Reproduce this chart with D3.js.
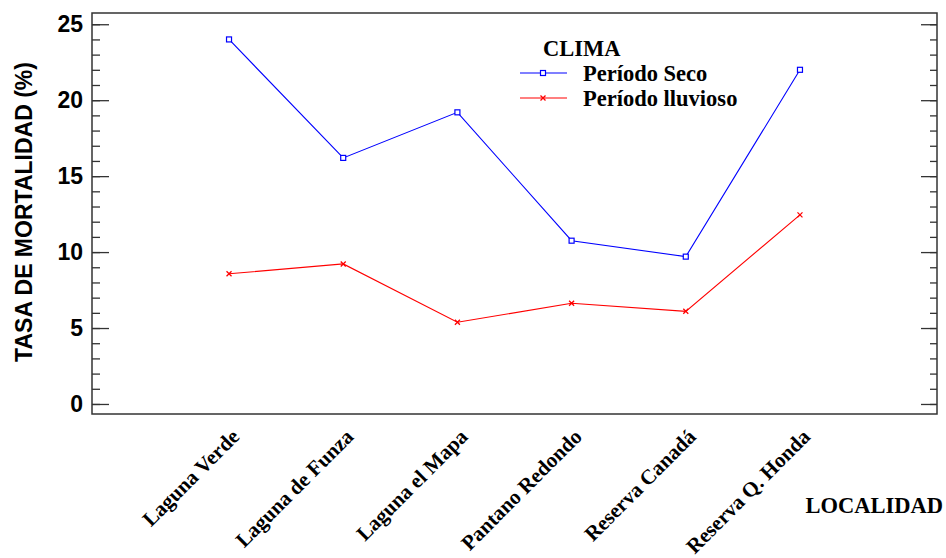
<!DOCTYPE html>
<html>
<head>
<meta charset="utf-8">
<script src="https://cdn.jsdelivr.net/npm/d3@7"></script>
<style>
  html, body { margin: 0; padding: 0; background: #fff; }
  svg { display: block; }
</style>
</head>
<body>
<svg id="chart" width="946" height="558"></svg>
<script>
// Localidades muestreadas
const localidades = ["Laguna Verde", "Laguna de Funza", "Laguna el Mapa", "Pantano Redondo", "Reserva Canadá", "Reserva Q. Honda"];
// Tasa de mortalidad (%) por época
const seco = [24.0, 16.2, 19.2, 10.75, 9.7, 22.0];
const lluvioso = [8.57, 9.22, 5.38, 6.63, 6.1, 12.45];
const yMajorTicks = [0, 5, 10, 15, 20, 25];
const yMinorTicks = d3.range(0, 26);

const svg = d3.select("#chart");
const plotLeft = 92, plotRight = 937, plotTop = 13, plotBottom = 414;

const x = d3.scalePoint().domain(localidades).range([plotLeft, plotRight]).padding(1.2);
const y = d3.scaleLinear().domain([-0.66, 25.74]).range([plotBottom, plotTop]);

const serif = "'Liberation Serif', 'Times New Roman', serif";
const sans = "'Liberation Sans', Arial, sans-serif";

// Left axis: ticks pointing inward
const yLeftMinor = d3.axisRight(y).tickValues(yMinorTicks).tickSize(8).tickFormat("");
const yLeftMajor = d3.axisRight(y).tickValues(yMajorTicks).tickSize(17).tickFormat("");
const yLabels = d3.axisLeft(y).tickValues(yMajorTicks).tickSize(0).tickPadding(9);

function styleAxis(g) {
  g.select(".domain").remove();
  g.selectAll(".tick line").attr("stroke", "#333").attr("stroke-width", 1.3);
}

svg.append("g").attr("transform", `translate(${plotLeft},0)`).call(yLeftMinor).call(styleAxis);
svg.append("g").attr("transform", `translate(${plotLeft},0)`).call(yLeftMajor).call(styleAxis);
svg.append("g").attr("transform", `translate(${plotLeft},0)`).call(yLabels)
  .call(g => g.select(".domain").remove())
  .call(g => g.selectAll("text")
    .attr("font-family", sans).attr("font-weight", "bold").attr("font-size", 23).attr("fill", "#000"));

// Right axis mirrored
const yRightMinor = d3.axisLeft(y).tickValues(yMinorTicks).tickSize(7).tickFormat("");
const yRightMajor = d3.axisLeft(y).tickValues(yMajorTicks).tickSize(16).tickFormat("");
svg.append("g").attr("transform", `translate(${plotRight},0)`).call(yRightMinor).call(styleAxis);
svg.append("g").attr("transform", `translate(${plotRight},0)`).call(yRightMajor).call(styleAxis);

// Frame
svg.append("rect")
  .attr("x", plotLeft).attr("y", plotTop)
  .attr("width", plotRight - plotLeft).attr("height", plotBottom - plotTop)
  .attr("fill", "none").attr("stroke", "#333").attr("stroke-width", 1.5);

// Category labels, rotated
const xAxis = d3.axisBottom(x).tickSize(0).tickPadding(0);
svg.append("g").attr("transform", `translate(0,${plotBottom})`).call(xAxis)
  .call(g => g.select(".domain").remove())
  .call(g => g.selectAll("text")
    .attr("font-family", serif).attr("font-weight", "bold").attr("font-size", 21).attr("fill", "#000")
    .attr("text-anchor", "end").attr("dy", null).attr("y", 0)
    .attr("transform", "translate(11,24) rotate(-45)"));

// Series
const line = d3.line().x((d, i) => x(localidades[i])).y(d => y(d));

svg.append("path").datum(seco)
  .attr("d", line).attr("fill", "none").attr("stroke", "#0000ff").attr("stroke-width", 1.1);
svg.append("path").datum(lluvioso)
  .attr("d", line).attr("fill", "none").attr("stroke", "#ff0000").attr("stroke-width", 1.1);

function squareMarker(sel, cx, cy) {
  sel.append("rect").attr("x", cx - 2.5).attr("y", cy - 2.5).attr("width", 5).attr("height", 5)
    .attr("fill", "#fff").attr("stroke", "#0000ff").attr("stroke-width", 1.2);
}
function crossMarker(sel, cx, cy) {
  sel.append("path").attr("d", `M${cx - 2.5},${cy - 2.5}L${cx + 2.5},${cy + 2.5}M${cx - 2.5},${cy + 2.5}L${cx + 2.5},${cy - 2.5}`)
    .attr("stroke", "#ff0000").attr("stroke-width", 1.3).attr("fill", "none");
}

const marks = svg.append("g");
seco.forEach((v, i) => squareMarker(marks, x(localidades[i]), y(v)));
lluvioso.forEach((v, i) => crossMarker(marks, x(localidades[i]), y(v)));

// Legend
const legend = svg.append("g");
legend.append("text").attr("x", 543).attr("y", 56).text("CLIMA")
  .attr("font-family", serif).attr("font-weight", "bold").attr("font-size", 22.5);
const items = [
  { name: "Período Seco", color: "#0000ff", marker: squareMarker, y: 73 },
  { name: "Período lluvioso", color: "#ff0000", marker: crossMarker, y: 98 }
];
items.forEach(it => {
  legend.append("line").attr("x1", 520).attr("x2", 567).attr("y1", it.y).attr("y2", it.y)
    .attr("stroke", it.color).attr("stroke-width", 1.1);
  it.marker(legend, 543, it.y);
  legend.append("text").attr("x", 583).attr("y", it.y + 8).text(it.name)
    .attr("font-family", serif).attr("font-weight", "bold").attr("font-size", 22.5);
});

// Axis titles
svg.append("text")
  .attr("transform", `translate(32,212) rotate(-90)`)
  .attr("text-anchor", "middle")
  .attr("font-family", sans).attr("font-weight", "bold").attr("font-size", 23)
  .text("TASA DE MORTALIDAD (%)");

svg.append("text").attr("x", 943).attr("y", 513).attr("text-anchor", "end")
  .attr("font-family", serif).attr("font-weight", "bold").attr("font-size", 22.5)
  .text("LOCALIDAD");
</script>
</body>
</html>
